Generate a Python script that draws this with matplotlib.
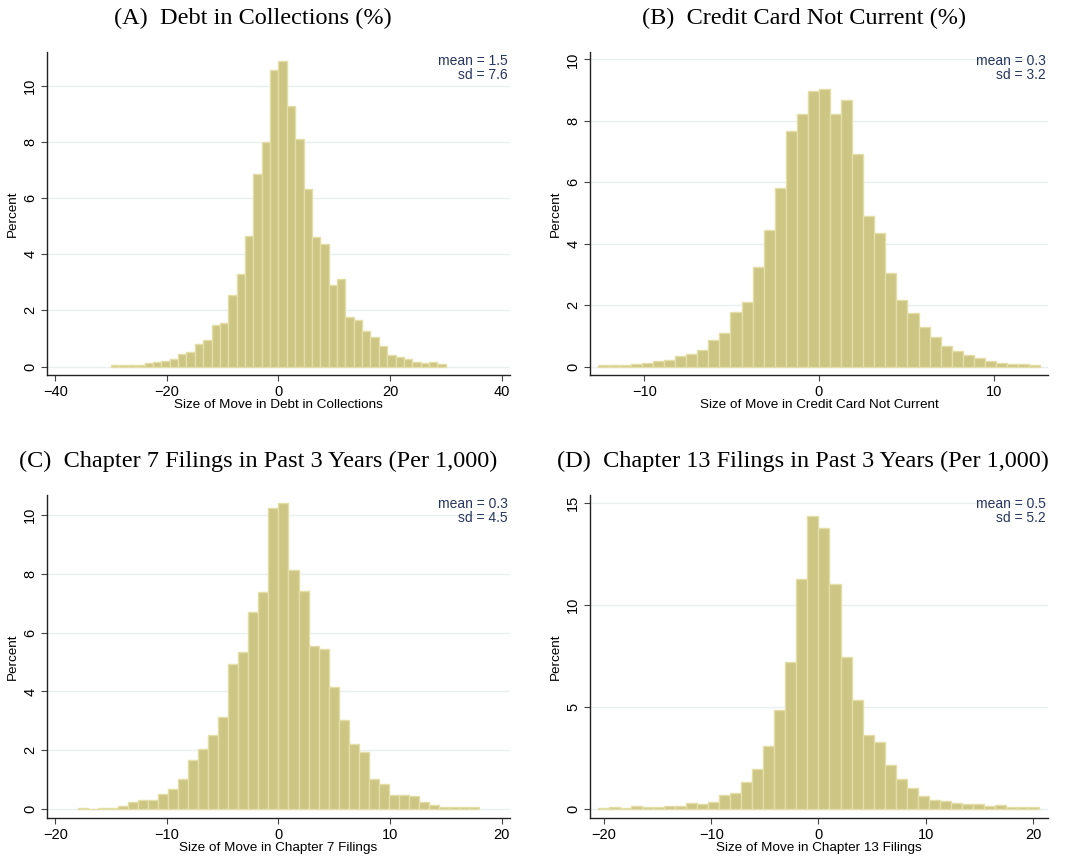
import numpy as np
import matplotlib
matplotlib.use("Agg")
import matplotlib.pyplot as plt

# Bin heights (percent), 40 equal-width bins per panel
debt_edges = (-30.0, 30.0)
debt_pct = [0.04, 0.06, 0.04, 0.07, 0.13, 0.16, 0.20, 0.26, 0.45, 0.51,
            0.80, 0.93, 1.47, 1.54, 2.53, 3.31, 4.63, 6.86, 8.00, 10.56,
            10.86, 9.28, 8.09, 6.33, 4.62, 4.38, 2.92, 3.10, 1.75, 1.64,
            1.25, 1.04, 0.72, 0.40, 0.33, 0.26, 0.15, 0.12, 0.15, 0.09]

cc_edges = (-12.66, 12.66)
cc_pct = [0.05, 0.05, 0.05, 0.09, 0.12, 0.17, 0.22, 0.35, 0.40, 0.54,
          0.86, 1.10, 1.79, 2.09, 3.24, 4.45, 5.82, 7.68, 8.23, 8.97,
          9.04, 8.23, 8.68, 6.92, 4.89, 4.35, 3.04, 2.16, 1.76, 1.28,
          0.96, 0.67, 0.50, 0.37, 0.27, 0.17, 0.12, 0.09, 0.09, 0.05]

ch7_edges = (-18.0, 18.0)
ch7_pct = [0.03, 0.01, 0.03, 0.03, 0.10, 0.22, 0.31, 0.31, 0.51, 0.68,
           1.02, 1.66, 2.04, 2.52, 3.13, 4.94, 5.36, 6.72, 7.40, 10.25,
           10.41, 8.13, 7.41, 5.54, 5.46, 4.15, 3.03, 2.20, 1.94, 1.02,
           0.85, 0.46, 0.49, 0.44, 0.24, 0.15, 0.08, 0.05, 0.05, 0.05]

ch13_edges = (-20.6, 20.6)
ch13_pct = [0.07, 0.11, 0.07, 0.16, 0.11, 0.11, 0.16, 0.16, 0.31, 0.26,
            0.36, 0.70, 0.80, 1.34, 1.96, 3.08, 4.86, 7.19, 11.26, 14.34,
            13.75, 11.01, 7.44, 5.33, 3.62, 3.28, 2.15, 1.47, 1.01, 0.65,
            0.44, 0.39, 0.31, 0.26, 0.26, 0.16, 0.21, 0.11, 0.11, 0.11]

titles = ["(A)  Debt in Collections (%)",
          "(B)  Credit Card Not Current (%)",
          "(C)  Chapter 7 Filings in Past 3 Years (Per 1,000)",
          "(D)  Chapter 13 Filings in Past 3 Years (Per 1,000)"]
xlabels = ["Size of Move in Debt in Collections",
           "Size of Move in Credit Card Not Current",
           "Size of Move in Chapter 7 Filings",
           "Size of Move in Chapter 13 Filings"]
means = [1.5, 0.3, 0.3, 0.5]
sds = [7.6, 3.2, 4.5, 5.2]

panels = [
    (debt_edges, debt_pct, (-41.5, 41.5), (-0.3, 11.2), [-40, -20, 0, 20, 40], [0, 2, 4, 6, 8, 10]),
    (cc_edges, cc_pct, (-13.1, 13.1), (-0.27, 10.24), [-10, 0, 10], [0, 2, 4, 6, 8, 10]),
    (ch7_edges, ch7_pct, (-20.75, 20.75), (-0.31, 10.69), [-20, -10, 0, 10, 20], [0, 2, 4, 6, 8, 10]),
    (ch13_edges, ch13_pct, (-21.3, 21.4), (-0.44, 15.38), [-20, -10, 0, 10, 20], [0, 5, 10, 15]),
]

positions = [[0.0441, 0.564, 0.4347, 0.3756],
             [0.554, 0.564, 0.430, 0.3756],
             [0.0441, 0.0488, 0.4347, 0.3756],
             [0.554, 0.0488, 0.430, 0.3756]]
title_xy = [(0.2376, 0.978), (0.755, 0.978), (0.242, 0.464), (0.754, 0.464)]

plt.rcParams['font.family'] = ['Liberation Sans', 'DejaVu Sans']
bar_color = '#cdc584'
edge_color = '#e3dda6'
spine_color = '#222222'

fig = plt.figure(figsize=(10.65, 8.6), dpi=100)

for i, (edges, pct, xlim, ylim, xt, yt) in enumerate(panels):
    ax = fig.add_axes(positions[i])
    bins = np.linspace(edges[0], edges[1], len(pct) + 1)
    ax.bar(bins[:-1], pct, width=np.diff(bins), align='edge',
           color=bar_color, edgecolor=edge_color, linewidth=1.0, zorder=2)
    ax.set_xlim(*xlim)
    ax.set_ylim(*ylim)
    ax.set_xticks(xt)
    ax.set_yticks(yt)
    ax.set_yticklabels([str(v) for v in yt], rotation=90, va='center')
    ax.yaxis.grid(True, color='#eaf0f0', linewidth=1.0, zorder=0)
    ax.set_axisbelow(True)
    for s in ['top', 'right']:
        ax.spines[s].set_visible(False)
    for s in ['left', 'bottom']:
        ax.spines[s].set_color(spine_color)
        ax.spines[s].set_linewidth(1.0)
    ax.tick_params(axis='both', labelsize=10.5, colors='#444444', labelcolor='black',
                   length=4, width=0.8, pad=3)
    ax.set_xlabel(xlabels[i], fontsize=9.7, labelpad=0)
    ax.set_ylabel("Percent", fontsize=9.7, labelpad=3)
    ax.text(0.995, 0.995, f"mean = {means[i]}\nsd = {sds[i]}", transform=ax.transAxes,
            ha='right', va='top', fontsize=10, color='#27365e', linespacing=1.0)
    fig.text(title_xy[i][0], title_xy[i][1], titles[i], ha='center', va='center',
             fontsize=17.5, family=['Liberation Serif', 'DejaVu Serif'])

fig.savefig("out.png", dpi=100, facecolor='white')
